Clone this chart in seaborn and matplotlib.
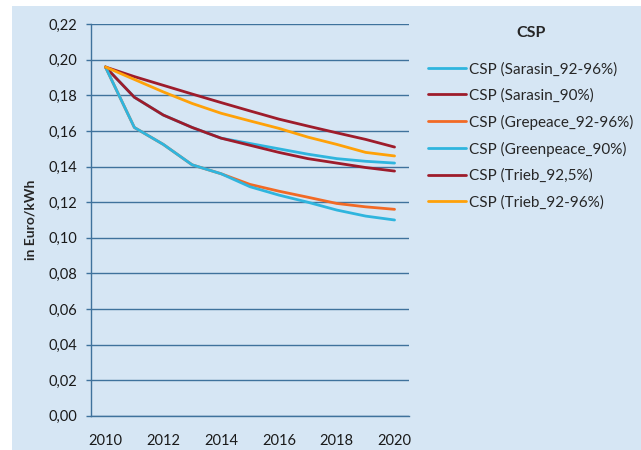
import pandas as pd
import matplotlib
matplotlib.use('Agg')
import matplotlib.pyplot as plt
import seaborn as sns
from matplotlib.patches import Rectangle
from matplotlib.ticker import FixedLocator, FuncFormatter

# Daten
years = [2010, 2011, 2012, 2013, 2014, 2015, 2016, 2017, 2018, 2019, 2020]
sarasin_92_96 = [0.196, 0.179, 0.169, 0.162, 0.156, 0.153, 0.150, 0.147, 0.1445, 0.143, 0.142]
sarasin_90 = [0.196, 0.179, 0.169, 0.162, 0.156, 0.152, 0.148, 0.1445, 0.142, 0.1395, 0.1375]
grepeace_92_96 = [0.196, 0.162, 0.1525, 0.141, 0.136, 0.130, 0.1262, 0.1228, 0.1193, 0.1174, 0.116]
greenpeace_90 = [0.196, 0.162, 0.1525, 0.141, 0.136, 0.1287, 0.124, 0.120, 0.1156, 0.1122, 0.110]
trieb_92_5 = [0.196, 0.1906, 0.1857, 0.1808, 0.176, 0.1713, 0.1667, 0.1628, 0.159, 0.1553, 0.151]
trieb_92_96 = [0.196, 0.189, 0.182, 0.1755, 0.170, 0.1657, 0.1615, 0.1566, 0.1525, 0.148, 0.146]

series_names = ['CSP (Sarasin_92-96%)', 'CSP (Sarasin_90%)', 'CSP (Grepeace_92-96%)',
                'CSP (Greenpeace_90%)', 'CSP (Trieb_92,5%)', 'CSP (Trieb_92-96%)']
series_values = [sarasin_92_96, sarasin_90, grepeace_92_96, greenpeace_90, trieb_92_5, trieb_92_96]
colors = ['#2FB5DE', '#9E1C2B', '#F26A25', '#2FB5DE', '#9E1C2B', '#FFA108']

bg = '#D6E6F4'
blue = '#3F729C'

sns.set_style('white')
plt.rcParams['font.family'] = ['Lato', 'DejaVu Sans']

fig = plt.figure(figsize=(6.41, 4.5), dpi=100, facecolor='white')
fig.patches.append(Rectangle((12 / 641, 0), 1, 1 - 6 / 450, transform=fig.transFigure,
                             facecolor=bg, edgecolor='none', zorder=-10))
ax = fig.add_axes([91 / 641, 34.3 / 450, 318 / 641, 391.4 / 450])
ax.set_facecolor(bg)

for name, vals, c in zip(series_names, series_values, colors):
    sns.lineplot(x=years, y=vals, color=c, label=name, linewidth=2.0, ax=ax)

ax.set_xlim(2009.5, 2020.5)
ax.set_ylim(0, 0.22)
ax.set_yticks([i * 0.02 for i in range(12)])
ax.yaxis.set_major_formatter(FuncFormatter(lambda v, p: f'{v:.2f}'.replace('.', ',')))
ax.set_xticks([2010, 2012, 2014, 2016, 2018, 2020])
ax.xaxis.set_minor_locator(FixedLocator([y - 0.5 for y in years] + [2020.5]))
ax.tick_params(axis='x', which='major', length=0, pad=13, labelsize=10.5, labelcolor='#1a1a1a')
ax.tick_params(axis='x', which='minor', length=3.5, width=1, color=blue, direction='out')
ax.tick_params(axis='y', length=3.8, width=1, color=blue, pad=6, labelsize=10.5,
               labelcolor='#1a1a1a', direction='out', left=True)
ax.grid(axis='y', color=blue, linewidth=1)
ax.set_axisbelow(True)
for s in ['top', 'right']:
    ax.spines[s].set_visible(False)
for s in ['left', 'bottom']:
    ax.spines[s].set_color(blue)
    ax.spines[s].set_linewidth(1)

ax.set_ylabel('in Euro/kWh', fontsize=10, fontweight='bold', labelpad=9)
ax.set_xlabel('')

handles, labels = ax.get_legend_handles_labels()
ax.get_legend().remove()
leg = fig.legend(handles, labels, loc='upper left', bbox_to_anchor=(428 / 641, 1 - 26 / 450),
                 frameon=False, fontsize=11, title='CSP', borderpad=0, borderaxespad=0,
                 title_fontproperties={'weight': 'bold', 'size': 11.5},
                 handlelength=2.5, handletextpad=0.2, labelspacing=0.78)
leg._legend_box.sep = 16

plt.savefig('out.png', dpi=100, facecolor='white')
